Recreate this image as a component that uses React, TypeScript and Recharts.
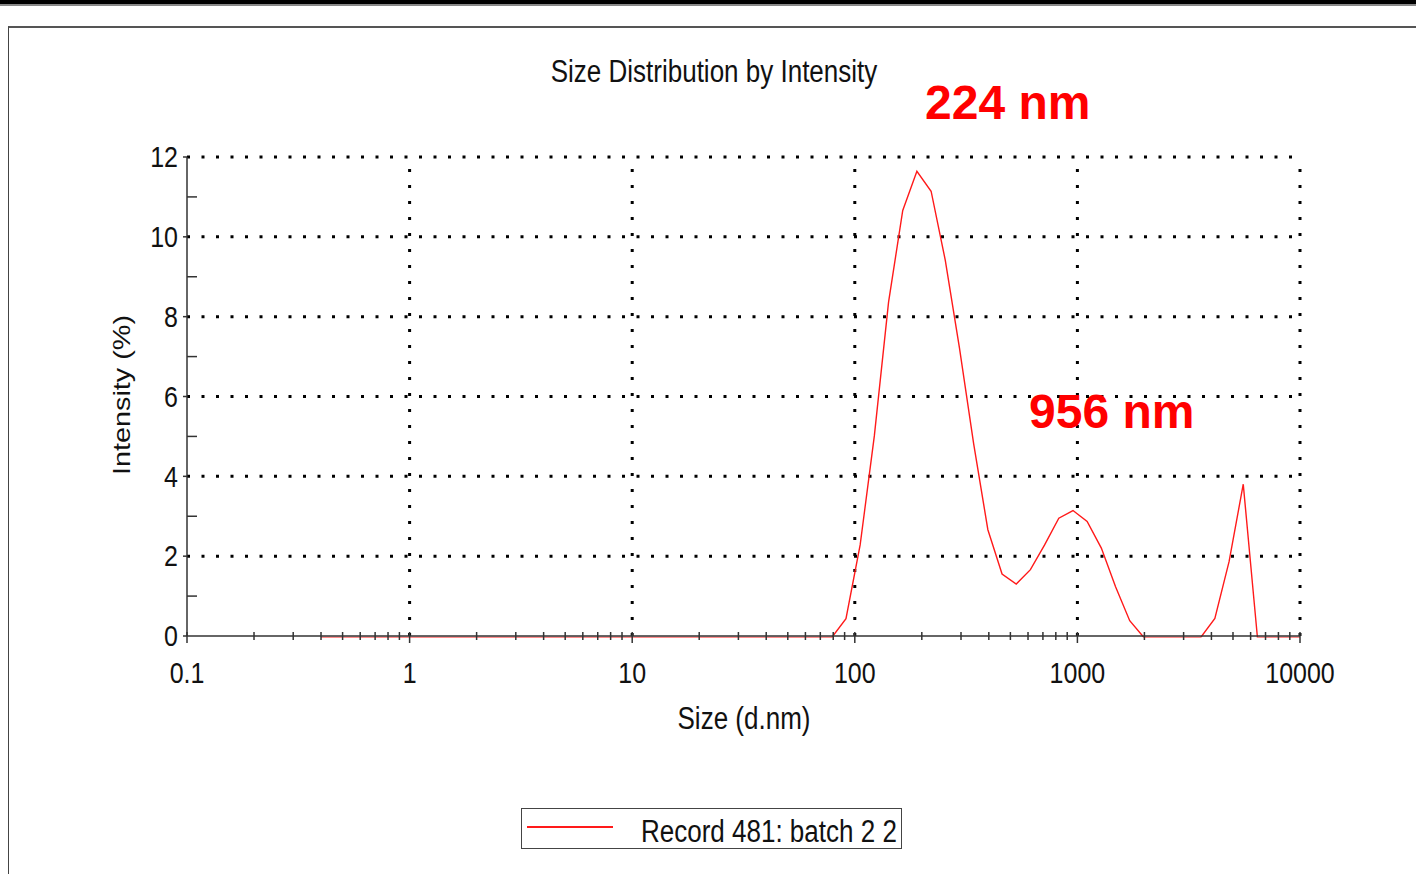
import { LineChart, Line, XAxis, YAxis, ReferenceLine } from 'recharts';

// Malvern size classes (d.nm) and intensity (%)
const sizes = [
  0.4, 0.4632, 0.5365, 0.6213, 0.7195, 0.8332, 0.9649, 1.117, 1.294, 1.499,
  1.736, 2.01, 2.328, 2.696, 3.122, 3.615, 4.187, 4.849, 5.615, 6.503,
  7.531, 8.721, 10.1, 11.7, 13.54, 15.69, 18.17, 21.04, 24.36, 28.21,
  32.67, 37.84, 43.82, 50.75, 58.77, 68.06, 78.82, 91.28, 105.7, 122.4,
  141.8, 164.2, 190.1, 220.2, 255.0, 295.3, 342.0, 396.1, 458.7, 531.2,
  615.1, 712.4, 825.0, 955.4, 1106, 1281, 1484, 1718, 1990, 2305,
  2669, 3091, 3580, 4145, 4801, 5560, 6439, 7456, 8635, 10000,
];
const intensity = [
  0, 0, 0, 0, 0, 0, 0, 0, 0, 0,
  0, 0, 0, 0, 0, 0, 0, 0, 0, 0,
  0, 0, 0, 0, 0, 0, 0, 0, 0, 0,
  0, 0, 0, 0, 0, 0, 0, 0.47, 2.32, 5.05,
  8.4, 10.7, 11.68, 11.18, 9.45, 7.25, 4.85, 2.7, 1.59, 1.34,
  1.7, 2.32, 2.99, 3.18, 2.91, 2.24, 1.27, 0.42, 0, 0,
  0, 0, 0, 0.48, 1.9, 3.84, 0, 0, 0, 0,
];

const xDecades = [0.1, 1, 10, 100, 1000, 10000];
const xDecadeLabels = ['0.1', '1', '10', '100', '1000', '10000'];
const minorSteps = [2, 3, 4, 5, 6, 7, 8, 9];
const yTicks = [0, 1, 2, 3, 4, 5, 6, 7, 8, 9, 10, 11, 12];
const yGrid = [2, 4, 6, 8, 10, 12];
const xGrid = [1, 10, 100, 1000, 10000];

const data = sizes.map((s, i) => ({ size: s, intensity: intensity[i] }));
const xTicks = [
  ...xDecades,
  ...xDecades.slice(0, -1).flatMap((d) => minorSteps.map((m) => d * m)),
].sort((a, b) => a - b);

const FONT = '"Liberation Sans", Arial, sans-serif';
const AXIS = '#333';
const RED = '#ff1a1a';

function XTick({ x, y, payload }: any) {
  const idx = xDecades.indexOf(payload.value);
  const major = idx >= 0;
  return (
    <g>
      <line x1={x} x2={x} y1={y - 4} y2={y + (major ? 7 : 4)} stroke={AXIS} strokeWidth={1.5} />
      {major && (
        <text
          transform={`translate(${x},${y + 37}) scale(1,1.2)`}
          textAnchor="middle"
          dominantBaseline="central"
          fontFamily={FONT}
          fontSize={25}
          fill="#111"
        >
          {xDecadeLabels[idx]}
        </text>
      )}
    </g>
  );
}

function YTick({ x, y, payload }: any) {
  const v = payload.value;
  if (v % 2 !== 0) {
    return <line x1={x} x2={x + 10} y1={y} y2={y} stroke={AXIS} strokeWidth={1.5} />;
  }
  return (
    <g>
      <line x1={x - 4} x2={x} y1={y} y2={y} stroke={AXIS} strokeWidth={1.5} />
      <text
        transform={`translate(${x - 9},${y}) scale(1,1.2)`}
        textAnchor="end"
        dominantBaseline="central"
        fontFamily={FONT}
        fontSize={25}
        fill="#111"
      >
        {v}
      </text>
    </g>
  );
}

const textStyle = {
  position: 'absolute' as const,
  fontFamily: FONT,
  lineHeight: 1,
  whiteSpace: 'nowrap' as const,
  color: '#111',
};

export default function App() {
  return (
    <div style={{ position: 'fixed', left: 0, top: 0, width: 1416, height: 874, background: '#fff', overflow: 'hidden' }}>
      {/* the instrument software draws the trace a touch below the axis */}
      <style>{'.dls-trace path { transform: translateY(1.5px); }'}</style>

      {/* page chrome */}
      <div style={{ position: 'absolute', left: 0, top: 0, width: 1416, height: 4, background: '#000' }} />
      <div style={{ position: 'absolute', left: 0, top: 4, width: 1416, height: 2, background: '#888' }} />
      <div
        style={{
          position: 'absolute',
          left: 8,
          top: 26,
          width: 1430,
          height: 880,
          borderTop: '2px solid #555',
          borderLeft: '1.5px solid #444',
        }}
      />

      <div style={{ position: 'absolute', left: 0, top: 0 }}>
        <LineChart
          width={1416}
          height={874}
          data={data}
          margin={{ top: 157, right: 116, bottom: 178, left: 127 }}
        >
          <XAxis
            dataKey="size"
            type="number"
            scale="log"
            domain={[0.1, 10000]}
            ticks={xTicks}
            interval={0}
            height={60}
            tickSize={0}
            tickMargin={0}
            tickLine={false}
            axisLine={{ stroke: AXIS, strokeWidth: 1.5 }}
            tick={(p: any) => <XTick {...p} />}
            allowDataOverflow
          />
          <YAxis
            type="number"
            domain={[0, 12]}
            ticks={yTicks}
            interval={0}
            width={60}
            tickSize={0}
            tickMargin={0}
            tickLine={false}
            axisLine={{ stroke: AXIS, strokeWidth: 1.5 }}
            tick={(p: any) => <YTick {...p} />}
            allowDataOverflow
          />
          {yGrid.map((v) => (
            <ReferenceLine key={`h${v}`} y={v} stroke="#000" strokeWidth={3} strokeDasharray="3 11.5" />
          ))}
          {xGrid.map((v) => (
            <ReferenceLine key={`v${v}`} x={v} stroke="#000" strokeWidth={3} strokeDasharray="3 13" />
          ))}
          <Line
            className="dls-trace"
            type="linear"
            dataKey="intensity"
            stroke={RED}
            strokeWidth={1.4}
            dot={false}
            isAnimationActive={false}
          />
        </LineChart>
      </div>

      {/* titles */}
      <div style={{ ...textStyle, left: 414, width: 600, top: 58, fontSize: 26, textAlign: 'center', transform: 'scaleY(1.2)' }}>
        Size Distribution by Intensity
      </div>
      <div style={{ ...textStyle, left: 544, width: 400, top: 705, fontSize: 26, textAlign: 'center', transform: 'scaleY(1.2)' }}>
        Size (d.nm)
      </div>
      <div
        style={{
          ...textStyle,
          left: 22,
          width: 200,
          top: 383,
          fontSize: 24,
          textAlign: 'center',
          transform: 'rotate(-90deg) scaleX(1.2)',
        }}
      >
        Intensity (%)
      </div>

      {/* peak annotations */}
      <div style={{ ...textStyle, left: 925, top: 79, fontSize: 48, fontWeight: 700, color: '#ff0000' }}>224 nm</div>
      <div style={{ ...textStyle, left: 1029, top: 388, fontSize: 48, fontWeight: 700, color: '#ff0000' }}>956 nm</div>

      {/* legend */}
      <div
        style={{
          position: 'absolute',
          left: 521,
          top: 808,
          width: 381,
          height: 41,
          border: '1.5px solid #444',
          boxSizing: 'border-box',
          background: '#fff',
        }}
      >
        <div style={{ position: 'absolute', left: 5, top: 17, width: 86, height: 2, background: RED }} />
        <div style={{ ...textStyle, left: 119, top: 9, fontSize: 26, transform: 'scaleY(1.2)' }}>
          Record 481: batch 2 2
        </div>
      </div>
    </div>
  );
}
